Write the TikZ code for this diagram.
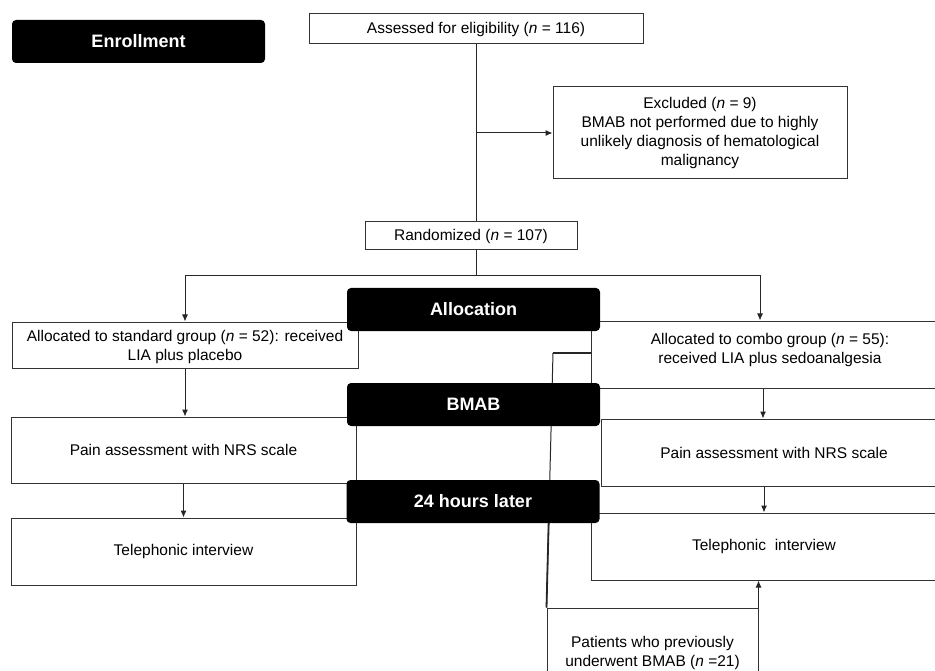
\documentclass[tikz,border=0pt]{standalone}
\usepackage{fontspec}
\setmainfont{Liberation Sans}
\usepackage{tikz}
\usetikzlibrary{shapes,positioning}
\usetikzlibrary{calc}
\usetikzlibrary{arrows.meta}
\tikzset{
	boite/.style={draw=black!80,line width=1pt,fill=white,align=center,inner sep=0pt,font=\fontsize{15.5}{19}\selectfont},
	etape/.style={fill=black,rounded corners=4pt,text=white,inner sep=0pt,minimum width=253,minimum height=43,font=\fontsize{18}{21}\selectfont\bfseries},
	trait/.style={draw=black!85,line width=1pt},
	fleche/.style={trait,-{Latex[length=7pt,width=6pt]}}
}

\begin{document}
\begin{tikzpicture}[x=1pt,y=-1pt]
	\useasboundingbox (0,0) rectangle (935,671);
	
	%Cases blanches
	\node[boite,minimum width=334,minimum height=30] (assess) at (476,29) {Assessed for eligibility (\textit{n} = 116)};
	\node[boite,minimum width=294,minimum height=92] (excl) at (700,133) {Excluded (\textit{n} = 9)\\BMAB not performed due to highly\\unlikely diagnosis of hematological\\malignancy};
	\node[boite,minimum width=212,minimum height=28] (rando) at (471,236) {Randomized (\textit{n} = 107)};
	\node[boite,minimum width=346,minimum height=46,text depth=0pt] (stdgrp) at (185,345) {Allocated to standard group (\textit{n} = 52): received\\LIA plus placebo};
	\node[boite,minimum width=358,minimum height=67,text depth=12pt] (combo) at (770,354.5) {Allocated to combo group (\textit{n} = 55):\\received LIA plus sedoanalgesia};
	\node[boite,minimum width=345,minimum height=66] (painL) at (183.5,450) {Pain assessment with NRS scale};
	\node[boite,minimum width=346,minimum height=67] (painR) at (774,452.5) {Pain assessment with NRS scale};
	\node[boite,minimum width=345,minimum height=67] (phoneL) at (183.5,551.5) {Telephonic interview};
	\node[boite,minimum width=346,minimum height=67] (phoneR) at (764,546.5) {Telephonic\ \ interview};
	\node[boite,minimum width=211,minimum height=90] (prev) at (652.5,653) {Patients who previously\\underwent BMAB (\textit{n} =21)};
	
	%Liens
	\coordinate (split) at (476,276);
	\coordinate (coude) at (553,353);
	\draw[trait] (assess.south) -- (assess.south |- rando.north);
	\coordinate (branche) at ($(assess.south)!0.5!(assess.south |- rando.north)$);
	\draw[fleche] (branche) -- (excl.west);
	\draw[trait] (split |- rando.south) -- (split);
	\draw[fleche] (split) -| (stdgrp.north);
	\draw[fleche] (split) -| ([xshift=-10pt]combo.north);
	\draw[fleche] (stdgrp.south) -- (stdgrp.south |- painL.north);
	\draw[fleche] ([xshift=-7pt]combo.south) -- ([xshift=-7pt]combo.south |- painR.north);
	\draw[fleche] (painL.south) -- (phoneL.north);
	\draw[fleche] ([xshift=-10pt]painR.south) -- ([xshift=-10pt]painR.south |- phoneR.north);
	\draw[fleche] (prev.north east) -- (prev.north east |- phoneR.south);
	\draw[trait,line width=1.8pt] (combo.west |- coude) -- (coude);
	\draw[trait] (coude) -- (prev.north west);
	\draw[trait,line width=1.8pt] ($(coude)!0.66!(prev.north west)$) -- (prev.north west);
	
	%Etapes
	\node[etape] (enroll) at (138.5,41.5) {Enrollment};
	\node[etape] (alloc) at (473.5,309.5) {Allocation};
	\node[etape] (bmab) at (473.5,404.5) {BMAB};
	\node[etape] (later) at (473,501.5) {24 hours later};
	
\end{tikzpicture}
\end{document}
